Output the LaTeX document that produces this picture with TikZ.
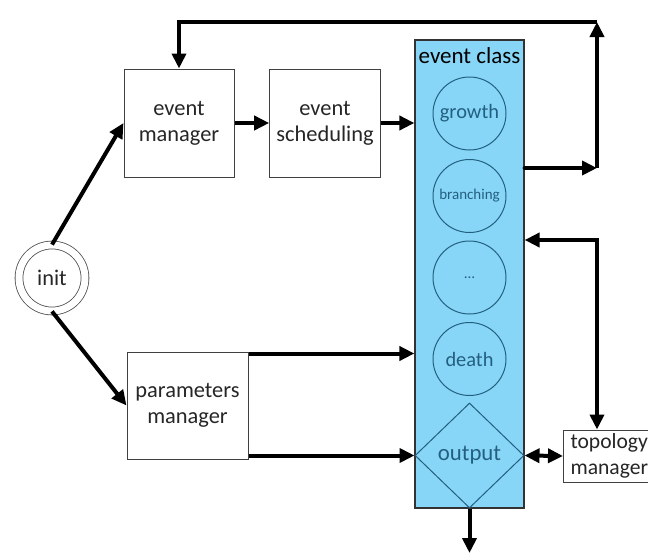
\documentclass[tikz,border=0pt]{standalone}
\usepackage{fontspec}
\setmainfont{Carlito}
\usetikzlibrary{shapes.geometric,arrows.meta}
\definecolor{classblue}{RGB}{135,214,247}
\definecolor{classline}{RGB}{35,95,128}
\definecolor{textgray}{RGB}{38,38,38}
\begin{document}
\begin{tikzpicture}[x=0.5pt,y=-0.5pt,
		box/.style={draw=black!75, line width=0.5pt, fill=white, text=textgray, align=center,
			minimum width=55pt, minimum height=54pt, font=\fontsize{11.2}{13}\selectfont},
		evt/.style={circle, draw=classline, line width=0.5pt, minimum size=36.5pt, inner sep=0pt,
			text=classline, font=\fontsize{10.2}{12}\selectfont},
		flow/.style={line width=2pt, -{Triangle[length=7.5pt,width=7pt]}},
		flowboth/.style={line width=2pt, {Triangle[length=7.5pt,width=7pt]}-{Triangle[length=7.5pt,width=7pt]}}]
		\useasboundingbox (0,0) rectangle (648,557);
		
		% event class
		\node[draw=black!80, line width=0.6pt, fill=classblue, minimum width=54.5pt, minimum height=234pt, inner sep=0pt] (evclass) at (469.5,274) {};
		\node[font=\fontsize{11.5}{13}\selectfont] (evclasslabel) at (469.5,56) {event class};
		\node[evt] (growth) at (469.5,113.5) {growth};
		\node[evt, font=\fontsize{7.5}{9}\selectfont] (branching) at (469.5,196) {branching};
		\node[evt, font=\fontsize{7.5}{9}\selectfont] (dots) at (469.5,277.5) {\dots};
		\node[evt] (death) at (469.5,359) {death};
		\node[diamond, draw=classline, line width=0.5pt, minimum width=54.5pt, minimum height=52.5pt, inner sep=0pt,
			text=classline, font=\fontsize{11.4}{13}\selectfont] (output) at (469.5,455.5) {output};
		
		% managers
		\node[circle, draw=black!70, line width=0.4pt, double, double distance=3.5pt, minimum size=33pt, inner sep=0pt,
			text=textgray, font=\fontsize{11.2}{13}\selectfont] (init) at (52,278) {init};
		\node[box] (evmgr) at (179,123) {event\\manager};
		\node[box] (evsched) at (325,123) {event\\scheduling};
		\node[box, minimum width=60.5pt, minimum height=53.5pt] (parmgr) at (187.5,405.5) {parameters\\manager};
		\node[box, anchor=west, align=left, text width=48pt, minimum height=26pt, inner sep=1pt,
			font=\fontsize{10.8}{13}\selectfont] (topomgr) at (563,456) {topology\\manager};
		
		% connectors
		\coordinate (loopr) at (597,168);
		\coordinate (loopt) at (597,22);
		\coordinate (loopl) at (179,22);
		\coordinate (topor) at (597,240);
		\coordinate (outend) at (469.5,553);
		
		\draw[flow] (init.north) -- (evmgr.west);
		\draw[flow] (init.south) -- (parmgr.west);
		\draw[flow] (evmgr) -- (evsched);
		\draw[flow] (evsched.east) -- (evsched.east -| evclass.west);
		\draw[flow] ([yshift=-1pt]parmgr.north east) -- ([yshift=-1pt]parmgr.north east -| evclass.west);
		\draw[flow] (parmgr.south east |- output.west) -- (output.west);
		\draw[flow, line cap=round] (loopr -| evclass.east) -- (loopr);
		\draw[flow] (loopr) -- (loopt);
		\draw[flow] (loopt) -- (loopl) -- (evmgr.north);
		\draw[flowboth] (topor -| evclass.east) -- (topor) -- (topor |- topomgr.north);
		\draw[flowboth] (output.east) -- (topomgr.west);
		\draw[flow] (output.south) -- (outend);
	\end{tikzpicture}
\end{document}
